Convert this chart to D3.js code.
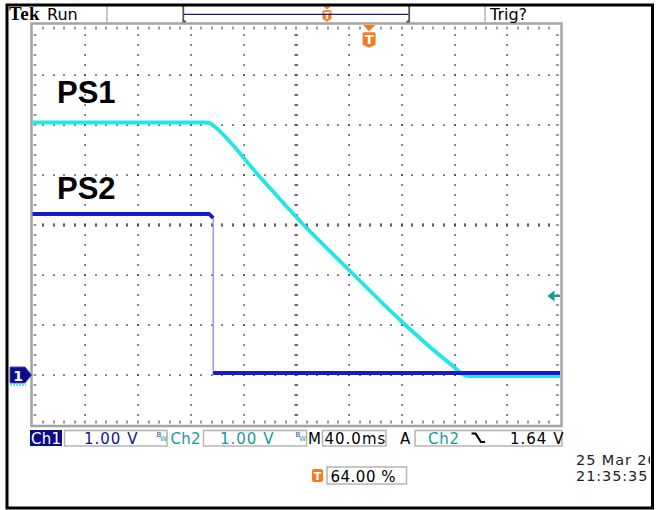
<!DOCTYPE html>
<html><head><meta charset="utf-8">
<script src="https://cdn.jsdelivr.net/npm/d3@7"></script>
<style>body{margin:0;background:#fff}svg{display:block}text{font-family:"DejaVu Sans",sans-serif}</style>
</head><body><svg id="c" width="658" height="510"></svg>
<script>
// ---- data ----
const ps1Time  = [-256,-125,-121,-118,-83.5,-53.2,-15.2,22.7,45.4,64.4,69.7,75.8,144];
const ps1Volts = [5.05,5.05,5.03,4.97,3.96,3.08,2.08,1.10,0.56,0.14,0.02,-0.02,-0.02];
const ps2Time  = [-256,-122,-119,-119,144];
const ps2Volts = [3.22,3.22,3.14,0.04,0.04];
const timeTicks = [-256,-216,-176,-136,-96,-56,-16,24,64,104,144]; // ms, 40 ms/div
const voltTicks = [-1,0,1,2,3,4,5,6,7];                             // V, 1 V/div
const traceNames = ["PS1","PS2"];
const ch1Scale = "1.00 V", ch2Scale = "1.00 V", timeBase = "40.0ms";
const trigSource = "Ch2", trigLevel = "1.64 V", trigPos = "64.00 %";
const trigMarkerVolts = 1.58;
const dateLines = ["25 Mar 20", "21:35:35"];

const svg = d3.select("#c");
const x = d3.scaleLinear().domain([-256,144]).range([32.5,560]);
const y = d3.scaleLinear().domain([-1,7]).range([425,25]);
const L = x(-256), R = x(144), T = y(7), B = y(-1);

const CYAN="#22e6e6", BLUE="#1818d0", NAVY="#0c0c8a", TEAL="#169a9a", ORANGE="#f47b20";

// ---- graticule ----
const grid = svg.append("g");
const minorV = d3.range(1,40).map(i => -1 + i*0.2);
const minorT = d3.range(1,50).map(i => -256 + i*8);
timeTicks.slice(1,-1).forEach(t => {
  grid.selectAll(null).data(minorV).enter().append("rect")
    .attr("x", Math.round(x(t))-0.5).attr("y", d => Math.round(y(d))-1)
    .attr("width",1.2).attr("height",2).attr("fill","#3a3a3a");
});
voltTicks.slice(1,-1).forEach(v => {
  grid.selectAll(null).data(minorT).enter().append("rect")
    .attr("x", d => Math.round(x(d))-1).attr("y", Math.round(y(v))-0.5)
    .attr("width",2).attr("height",1.2).attr("fill","#3a3a3a");
});
// center ticks
grid.selectAll(null).data(minorV).enter().append("line")
  .attr("x1", x(-56)-2).attr("x2", x(-56)+2).attr("y1", d=>Math.round(y(d))).attr("y2", d=>Math.round(y(d)))
  .attr("stroke","#3a3a3a").attr("stroke-width",1);
grid.selectAll(null).data(minorT).enter().append("line")
  .attr("y1", y(3)-2).attr("y2", y(3)+2).attr("x1", d=>Math.round(x(d))).attr("x2", d=>Math.round(x(d)))
  .attr("stroke","#3a3a3a").attr("stroke-width",1);
// border
grid.append("rect").attr("x",L-1).attr("y",T-1.5).attr("width",R-L+2.5).attr("height",B-T+2.5)
  .attr("fill","none").attr("stroke","#a4a4a4").attr("stroke-width",2.5);
// border ticks
[T+1.5, B-1.5].forEach((yy,k) => {
  grid.selectAll(null).data(minorT).enter().append("line")
    .attr("x1", d=>Math.round(x(d))).attr("x2", d=>Math.round(x(d)))
    .attr("y1", yy).attr("y2", k===0 ? yy+3 : yy-3).attr("stroke","#3a3a3a").attr("stroke-width",1);
});
[L+1, R-1].forEach((xx,k) => {
  grid.selectAll(null).data(minorV).enter().append("line")
    .attr("y1", d=>Math.round(y(d))).attr("y2", d=>Math.round(y(d)))
    .attr("x1", xx).attr("x2", k===0 ? xx+3 : xx-3).attr("stroke","#3a3a3a").attr("stroke-width",1);
});

// ---- traces ----
const line = d3.line().x(d=>x(d[0])).y(d=>y(d[1]));
const smooth = d3.line().x(d=>x(d[0])).y(d=>y(d[1])).curve(d3.curveMonotoneX);
const ps1 = ps1Time.map((t,i)=>[t,ps1Volts[i]]);
const ps2 = ps2Time.map((t,i)=>[t,ps2Volts[i]]);
svg.append("path").attr("d", smooth(ps1)).attr("fill","none").attr("stroke",CYAN)
  .attr("stroke-width",3.8).attr("stroke-linejoin","round");
// thin vertical transition of PS2
svg.append("path").attr("d", line(ps2)).attr("fill","none").attr("stroke","#8a8ae6").attr("stroke-width",1.3);
// thick segments (split where the trace jumps)
const segs = [[]];
ps2.forEach((p,i) => { if (i>0 && p[0]===ps2[i-1][0]) segs.push([]); segs[segs.length-1].push(p); });
segs.forEach(s => svg.append("path").attr("d", line(s)).attr("fill","none").attr("stroke",BLUE)
  .attr("stroke-width",3.8).attr("stroke-linejoin","round"));

// labels
svg.selectAll(null).data(traceNames).enter().append("text")
  .attr("x",57).attr("y",(d,i)=> i===0 ? 103 : 199)
  .style("font-family","'Liberation Sans',Arial,sans-serif").style("font-weight","bold")
  .style("font-size","31px").attr("fill","#000").text(d=>d);

// ---- markers ----
function tMarker(cx, top, tw, th, sw, sh, fs) {
  const g = svg.append("g");
  g.append("path").attr("d",`M${cx-tw/2},${top}H${cx+tw/2}L${cx},${top+th}Z`).attr("fill",ORANGE);
  const st = top+th+0.8, sb = st+sh;
  g.append("path").attr("d",`M${cx-sw/2+1.5},${st}H${cx+sw/2-1.5}Q${cx+sw/2},${st} ${cx+sw/2},${st+1.5}V${sb-3}L${cx},${sb}L${cx-sw/2},${sb-3}V${st+1.5}Q${cx-sw/2},${st} ${cx-sw/2+1.5},${st}Z`).attr("fill",ORANGE);
  g.append("text").attr("x",cx).attr("y",st+sh*0.78).attr("text-anchor","middle")
    .style("font-size",fs+"px").style("font-weight","bold").attr("fill","#fff").text("T");
}
tMarker(x(0)-1, T, 12, 6.5, 13, 15.5, 13);
tMarker(327, 6.5, 7, 3, 9, 11.5, 9);

// trigger level arrow
const ty = y(trigMarkerVolts);
svg.append("path").attr("d",`M547.5,${ty}L554.5,${ty-5.5}V${ty+5.5}Z`).attr("fill",TEAL);
svg.append("line").attr("x1",554).attr("x2",R).attr("y1",ty).attr("y2",ty).attr("stroke",TEAL).attr("stroke-width",2);

// Ch1 ground marker
const gy = y(0);
svg.append("path").attr("d",`M10,${gy-8}H25L31.5,${gy}L25,${gy+8}H10Z`).attr("fill",NAVY).attr("stroke","#4a4ab4").attr("stroke-width",1);
svg.append("text").attr("x",18).attr("y",gy+6).attr("text-anchor","middle").style("font-size","14px")
  .style("font-weight","bold").attr("fill","#fff").text("1");
svg.append("line").attr("x1",10).attr("x2",26).attr("y1",gy+10).attr("y2",gy+10)
  .attr("stroke","#30dede").attr("stroke-width",1.5).attr("stroke-dasharray","2,1");

// ---- header ----
svg.append("text").attr("x",9).attr("y",20).style("font-family","'Liberation Serif',serif").style("font-weight","bold")
  .style("font-size","19px").style("letter-spacing","0.3px").text("Tek");
svg.append("text").attr("x",47).attr("y",20).style("font-size","16px").text("Run");
svg.append("text").attr("x",490).attr("y",19.5).style("font-size","16px").text("Trig?");
svg.append("line").attr("x1",107).attr("x2",107).attr("y1",6).attr("y2",22).attr("stroke","#b4b4b4").attr("stroke-width",1.5);
svg.append("line").attr("x1",485).attr("x2",485).attr("y1",6).attr("y2",22).attr("stroke","#b4b4b4").attr("stroke-width",1.5);
svg.append("path").attr("d","M186,21.5H183.3V6M406.5,21.5H409.2V6").attr("fill","none").attr("stroke","#555").attr("stroke-width",1.8);
svg.append("line").attr("x1",184).attr("x2",408.5).attr("y1",14.3).attr("y2",14.3).attr("stroke","#1a1a8c").attr("stroke-width",1.3);

// ---- bottom status bar ----
const bb = 443.5;
function box(x0,x1,y0,y1){ svg.append("rect").attr("x",x0).attr("y",y0).attr("width",x1-x0).attr("height",y1-y0)
  .attr("fill","none").attr("stroke","#b4b4b4").attr("stroke-width",1.5); }
function txt(xx,yy,s,col,ls){ return svg.append("text").attr("x",xx).attr("y",yy).style("font-size","15px")
  .style("letter-spacing",(ls||0)+"px").attr("fill",col).text(s); }
svg.append("rect").attr("x",30).attr("y",430).attr("width",32).attr("height",16).attr("fill",NAVY);
txt(31,bb,"Ch1","#fff",0.3);
box(64.5,167,430.5,446); txt(84,bb,ch1Scale,"#14148c",1);
function bw(xx){ svg.append("text").attr("x",xx).attr("y",437).style("font-size","7px").attr("fill","#3a3a9a").text("B");
  svg.append("text").attr("x",xx+3.4).attr("y",441).style("font-size","7px").attr("fill",TEAL).text("W"); }
bw(156.5); txt(170.5,bb,"Ch2",TEAL,0.3);
box(203.5,306.5,430.5,446); txt(220,bb,ch2Scale,TEAL,1);
bw(295.5); txt(308,bb,"M","#000",0);
box(322.5,386,430.5,446); txt(324.5,bb,timeBase,"#000",1);
txt(400,bb,"A","#000",0);
box(415,562,430.5,446); txt(428,bb,trigSource,TEAL,0.8);
svg.append("path").attr("d","M471.5,433.5H475.5L481,442H485").attr("fill","none").attr("stroke","#000").attr("stroke-width",2.2);
txt(510,bb,trigLevel,"#000",1);
svg.append("rect").attr("x",312).attr("y",469).attr("width",11).attr("height",13).attr("rx",2).attr("fill",ORANGE);
svg.append("text").attr("x",317.5).attr("y",480).attr("text-anchor","middle").style("font-size","11px").style("font-weight","bold").attr("fill","#fff").text("T");
box(327,406.5,467,484); txt(330.5,481.5,trigPos,"#000",0.5);
svg.append("clipPath").attr("id","dclip").append("rect").attr("x",570).attr("y",440).attr("width",80).attr("height",50);
const dg = svg.append("g").attr("clip-path","url(#dclip)");
dateLines.forEach((s,i)=> dg.append("text").attr("x",576).attr("y",464.5+i*16.5).style("font-size","14.5px")
  .style("letter-spacing","0.9px").attr("fill","#222").text(s));

// ---- outer frame ----
svg.append("path").attr("d","M7,509V5H652.5V509M5.5,508H654").attr("fill","none").attr("stroke","#000").attr("stroke-width",3);
</script></body></html>
